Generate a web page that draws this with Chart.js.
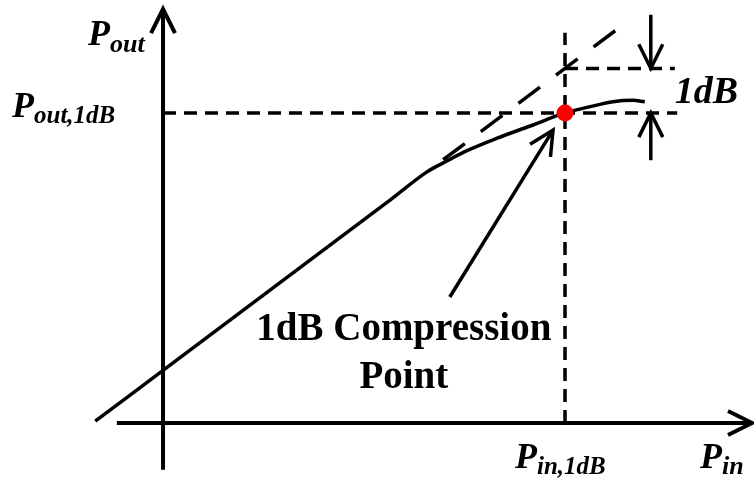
<!DOCTYPE html>
<html>
<head>
<meta charset="utf-8">
<script src="https://cdn.jsdelivr.net/npm/chart.js@4.4.1/dist/chart.umd.min.js"></script>
<style>
  html, body { margin: 0; padding: 0; background: #fff; }
  #wrap { width: 754px; height: 483px; position: relative; }
</style>
</head>
<body>
<div id="wrap"><canvas id="p1dbChart"></canvas></div>
<script>
// amplifier transfer curve in arbitrary units (x: Pin, y: Pout)
const pinValues = [-1.13, 0.00, 2.20, 3.80, 4.40, 4.70, 5.03, 5.57, 6.12, 6.70, 7.12, 7.50, 7.83, 8.03];
const poutValues = [0.04, 1.17, 3.37, 4.97, 5.58, 5.80, 6.03, 6.33, 6.60, 6.89, 7.03, 7.14, 7.17, 7.14];

const gainOffset = 1.18;          // small-signal: Pout = Pin + gainOffset
const pin1dB = 6.70;
const pout1dB = 6.89;             // one unit below the extrapolated line
const extrapolatedPin = [4.67, 7.65];

// axis lines and guide extents
const xAxisSpan = [-0.77, 9.82];
const yAxisSpan = [-1.04, 9.20];
const poutGuideEnd = 8.57;
const pinGuideTop = 8.67;
const linearGuideEnd = 8.53;
const markerPin = 8.13;
const markerDownFrom = 9.07;
const markerUpFrom = 5.84;
const pointerFrom = [4.78, 2.80];
const pointerTo = [6.50, 6.51];

const linearAt = p => +(p + gainOffset).toFixed(2);
const pts = (xs, ys) => xs.map((x, i) => ({ x, y: ys[i] }));

const SERIF = '"Liberation Serif", "Times New Roman", serif';
const DASH_SHORT = [13, 8];
const DASH_LONG = [27, 20];

function line(data, extra) {
  return Object.assign({
    data,
    showLine: true,
    borderColor: "#000",
    borderWidth: 3.5,
    pointRadius: 0,
    pointHoverRadius: 0,
    fill: false,
    clip: false,
    order: 1
  }, extra || {});
}

// chevron heads on datasets flagged with arrowHead
const arrowHeads = {
  id: "arrowHeads",
  afterDatasetsDraw(chart) {
    const ctx = chart.ctx;
    chart.data.datasets.forEach((ds, i) => {
      if (!ds.arrowHead) return;
      const els = chart.getDatasetMeta(i).data;
      const tip = els[els.length - 1];
      const prev = els[els.length - 2];
      const ang = Math.atan2(tip.y - prev.y, tip.x - prev.x);
      const len = 27, spread = 0.46;
      ctx.save();
      ctx.strokeStyle = "#000";
      ctx.lineWidth = ds.borderWidth;
      ctx.lineCap = "butt";
      ctx.lineJoin = "miter";
      ctx.beginPath();
      ctx.moveTo(tip.x - len * Math.cos(ang - spread), tip.y - len * Math.sin(ang - spread));
      ctx.lineTo(tip.x, tip.y);
      ctx.lineTo(tip.x - len * Math.cos(ang + spread), tip.y - len * Math.sin(ang + spread));
      ctx.stroke();
      ctx.restore();
    });
  }
};

function subLabel(ctx, x, y, main, sub, mainSize, subSize, drop) {
  ctx.font = `italic bold ${mainSize}px ${SERIF}`;
  ctx.fillText(main, x, y);
  const w = ctx.measureText(main).width;
  ctx.font = `italic bold ${subSize}px ${SERIF}`;
  ctx.fillText(sub, x + w, y + drop);
}

const labels = {
  id: "labels",
  afterDraw(chart) {
    const ctx = chart.ctx;
    const sx = chart.scales.x, sy = chart.scales.y;
    const x0 = sx.getPixelForValue(0), y0 = sy.getPixelForValue(0);
    ctx.save();
    ctx.fillStyle = "#000";
    ctx.textBaseline = "alphabetic";
    ctx.textAlign = "left";

    subLabel(ctx, x0 - 75, sy.getPixelForValue(yAxisSpan[1]) + 36, "P", "out", 36, 26, 7);
    subLabel(ctx, 12, sy.getPixelForValue(pout1dB) + 4, "P", "out,1dB", 36, 25, 6);
    subLabel(ctx, sx.getPixelForValue(pin1dB) - 50, y0 + 45, "P", "in,1dB", 36, 25, 6);
    subLabel(ctx, 700, y0 + 45, "P", "in", 36, 26, 6);

    const yTop = sy.getPixelForValue(linearAt(pin1dB));
    const yBot = sy.getPixelForValue(pout1dB);
    ctx.font = `italic bold 38px ${SERIF}`;
    ctx.fillText("1dB", sx.getPixelForValue(markerPin) + 24, (yTop + yBot) / 2 + 12);

    const px = sx.getPixelForValue(pointerFrom[0]) - 46;
    const py = sy.getPixelForValue(pointerFrom[1]);
    ctx.textAlign = "center";
    ctx.font = `bold 39px ${SERIF}`;
    ctx.fillText("1dB Compression", px, py + 43);
    ctx.fillText("Point", px, py + 91);
    ctx.restore();
  }
};

new Chart(document.getElementById("p1dbChart"), {
  type: "scatter",
  data: {
    datasets: [
      // compression point marker
      {
        data: [{ x: pin1dB, y: pout1dB }],
        pointRadius: 8.5,
        pointHoverRadius: 8.5,
        pointBackgroundColor: "#ff0000",
        pointBorderWidth: 0,
        clip: false,
        order: 0
      },
      // transfer curve
      line(pts(pinValues, poutValues), { cubicInterpolationMode: "monotone" }),
      // extrapolated linear gain
      line(pts(extrapolatedPin, extrapolatedPin.map(linearAt)), { borderDash: DASH_LONG }),
      // guides through the compression point
      line([{ x: 0, y: pout1dB }, { x: poutGuideEnd, y: pout1dB }], { borderDash: DASH_SHORT }),
      line([{ x: pin1dB, y: 0 }, { x: pin1dB, y: pinGuideTop }], { borderDash: DASH_SHORT }),
      line([{ x: pin1dB, y: linearAt(pin1dB) }, { x: linearGuideEnd, y: linearAt(pin1dB) }], { borderDash: DASH_SHORT }),
      // 1dB markers
      line([{ x: markerPin, y: markerDownFrom }, { x: markerPin, y: linearAt(pin1dB) }], { arrowHead: true }),
      line([{ x: markerPin, y: markerUpFrom }, { x: markerPin, y: pout1dB }], { arrowHead: true }),
      // pointer to the compression point
      line([{ x: pointerFrom[0], y: pointerFrom[1] }, { x: pointerTo[0], y: pointerTo[1] }], { arrowHead: true }),
      // axes
      line([{ x: xAxisSpan[0], y: 0 }, { x: xAxisSpan[1], y: 0 }], { borderWidth: 4, arrowHead: true }),
      line([{ x: 0, y: yAxisSpan[0] }, { x: 0, y: yAxisSpan[1] }], { borderWidth: 4, arrowHead: true })
    ]
  },
  options: {
    responsive: true,
    maintainAspectRatio: false,
    animation: false,
    events: [],
    layout: { padding: 0, autoPadding: false },
    plugins: {
      legend: { display: false },
      tooltip: { enabled: false }
    },
    scales: {
      x: { type: "linear", min: -2.717, max: 9.85, display: false },
      y: { type: "linear", min: -1.333, max: 9.4, display: false }
    }
  },
  plugins: [arrowHeads, labels]
});
</script>
</body>
</html>
